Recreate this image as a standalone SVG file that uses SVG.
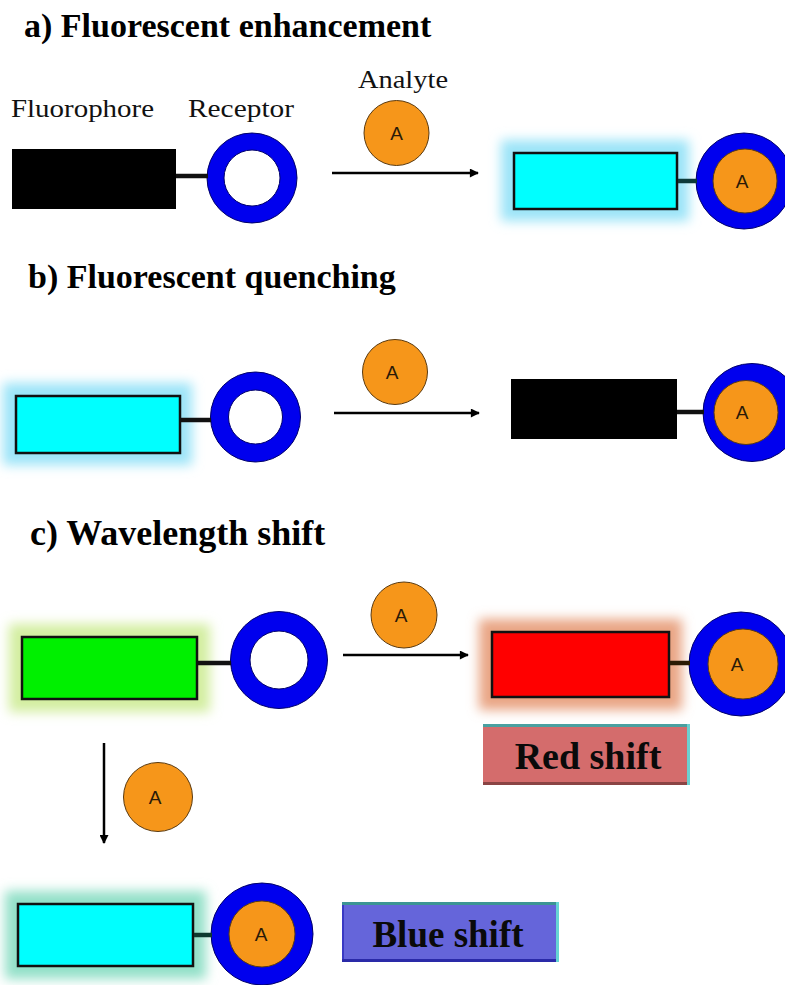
<svg xmlns="http://www.w3.org/2000/svg" width="785" height="985" viewBox="0 0 785 985">
<style>
.title{font-family:"Liberation Serif","Times New Roman",serif;font-weight:bold;fill:#000}
.lbl{font-family:"Liberation Serif","Times New Roman",serif;font-size:25px;fill:#111}
.a{font-family:"Liberation Sans",Arial,sans-serif;font-size:19px;fill:#2a1a08;text-anchor:middle}
.fl{stroke:#111;stroke-width:2.5}
.ring{fill:#0000EE;stroke:#00006a;stroke-width:1}
.hole{fill:#fff;stroke:#00006a;stroke-width:1}
.orange{fill:#F6961A;stroke:#5a3a10;stroke-width:1}
.arrow{stroke:#000;stroke-width:2.5;fill:none}
.bond{stroke-width:4.5;fill:none}
.shift{font-family:"Liberation Serif","Times New Roman",serif;font-weight:bold;fill:#0a0a0a;text-anchor:middle}
</style>
<defs>
<marker id="ah" viewBox="0 0 10 10" refX="9" refY="5" markerWidth="4" markerHeight="3.6" orient="auto" markerUnits="strokeWidth">
<path d="M0,0 L10,5 L0,10 z" fill="#000"/>
</marker>
<filter id="glow" x="-30%" y="-60%" width="160%" height="220%">
<feGaussianBlur stdDeviation="6"/>
</filter>
</defs>
<rect width="785" height="985" fill="#fff"/>

<text class="title" x="24" y="37" font-size="34">a) Fluorescent enhancement</text>
<text class="title" x="28" y="288" font-size="34">b) Fluorescent quenching</text>
<text class="title" x="30" y="545" font-size="36">c) Wavelength shift</text>

<text class="lbl" x="11" y="117" textLength="143" lengthAdjust="spacingAndGlyphs">Fluorophore</text>
<text class="lbl" x="188" y="117" textLength="106" lengthAdjust="spacingAndGlyphs">Receptor</text>
<text class="lbl" x="358" y="88" textLength="90" lengthAdjust="spacingAndGlyphs">Analyte</text>

<g id="a-fluorophore"><rect x="12" y="149" width="164" height="60" fill="#000"/></g>
<g id="a-receptor"><circle class="ring" cx="252" cy="178" r="45"/><circle class="hole" cx="252" cy="178" r="28"/></g>
<g id="a-analyte"><circle class="orange" cx="396.5" cy="133" r="32.5"/><text class="a" x="396.5" y="140">A</text></g>
<g id="a-product">
<rect x="501" y="140" width="188" height="81" fill="#9be4f8" filter="url(#glow)"/>
<rect class="fl" x="514" y="153" width="163" height="56" fill="#00FFFF"/>
<circle class="ring" cx="744" cy="181" r="48"/><circle class="orange" cx="745" cy="181" r="32"/><text class="a" x="742" y="188">A</text>
</g>

<g id="b-fluorophore">
<rect x="3" y="383" width="189" height="82" fill="#9be4f8" filter="url(#glow)"/>
<rect class="fl" x="16" y="396" width="164" height="57" fill="#00FFFF"/>
</g>
<g id="b-receptor"><circle class="ring" cx="255.5" cy="417" r="45"/><circle class="hole" cx="255.5" cy="417" r="27"/></g>
<g id="b-analyte"><circle class="orange" cx="395" cy="372" r="32.5"/><text class="a" x="392" y="379">A</text></g>
<g id="b-product">
<rect x="511" y="379" width="166" height="60" fill="#000"/>
<circle class="ring" cx="752" cy="412.5" r="49"/><circle class="orange" cx="746" cy="412.5" r="32"/><text class="a" x="742" y="419">A</text>
</g>

<g id="c-fluorophore">
<rect x="9" y="624" width="201" height="88" fill="#d3eea0" filter="url(#glow)"/>
<rect class="fl" x="22" y="637" width="175" height="62" fill="#00F000"/>
</g>
<g id="c-receptor"><circle class="ring" cx="279" cy="660" r="48.5"/><circle class="hole" cx="279" cy="660" r="29"/></g>
<g id="c-analyte-red"><circle class="orange" cx="404" cy="615" r="33"/><text class="a" x="401" y="622">A</text></g>
<g id="c-red-product">
<rect x="479" y="619" width="203" height="91" fill="#e9a584" filter="url(#glow)"/>
<rect class="fl" x="492" y="632" width="177" height="65" fill="#FF0000"/>
<circle class="ring" cx="741" cy="664" r="52"/><circle class="orange" cx="743" cy="664" r="35"/><text class="a" x="737" y="671">A</text>
</g>
<g id="red-shift">
<rect x="483" y="724" width="207" height="61" fill="#D46C6C"/>
<rect x="483" y="724" width="207" height="3" fill="#4aa0a0"/>
<rect x="687" y="724" width="3" height="61" fill="#6cd0d0"/>
<rect x="483" y="782" width="204" height="3" fill="#8a4444"/>
<text class="shift" x="588" y="769" font-size="38">Red shift</text>
</g>
<g id="c-analyte-blue"><circle class="orange" cx="158" cy="797" r="34.5"/><text class="a" x="155" y="804">A</text></g>
<g id="c-blue-product">
<rect x="5" y="891" width="201" height="88" fill="#93e0c8" filter="url(#glow)"/>
<rect class="fl" x="18" y="904" width="175" height="62" fill="#00FFFF"/>
<circle class="ring" cx="262" cy="934" r="51"/><circle class="orange" cx="262" cy="934" r="33"/><text class="a" x="261" y="941">A</text>
</g>
<g id="blue-shift">
<rect x="342" y="902" width="217" height="60" fill="#6565DA"/>
<rect x="342" y="902" width="217" height="3" fill="#3c9494"/>
<rect x="556" y="902" width="3" height="60" fill="#66d4d4"/>
<rect x="342" y="959" width="214" height="3" fill="#2a2aa8"/>
<rect x="342" y="905" width="2" height="54" fill="#3a3ac4"/>
<text class="shift" x="448" y="947" font-size="37">Blue shift</text>
</g>

<g id="connectors">
<line class="arrow" x1="332" y1="173" x2="478" y2="173" marker-end="url(#ah)"/>
<line class="arrow" x1="334" y1="413" x2="479" y2="413" marker-end="url(#ah)"/>
<line class="arrow" x1="343" y1="655" x2="468" y2="655" marker-end="url(#ah)"/>
<line class="arrow" x1="104" y1="743" x2="104" y2="843" marker-end="url(#ah)"/>
<line class="bond" x1="176" y1="176" x2="208" y2="176" stroke="#111"/>
<line class="bond" x1="678" y1="181" x2="697" y2="181" stroke="#0d3a3a"/>
<line class="bond" x1="181" y1="420" x2="211" y2="420" stroke="#111"/>
<line class="bond" x1="677" y1="412" x2="704" y2="412" stroke="#111"/>
<line class="bond" x1="198" y1="663" x2="231" y2="663" stroke="#111"/>
<line class="bond" x1="670" y1="663" x2="690" y2="663" stroke="#2a1a05"/>
<line class="bond" x1="194" y1="935" x2="212" y2="935" stroke="#0d3a30"/>
</g>
</svg>
